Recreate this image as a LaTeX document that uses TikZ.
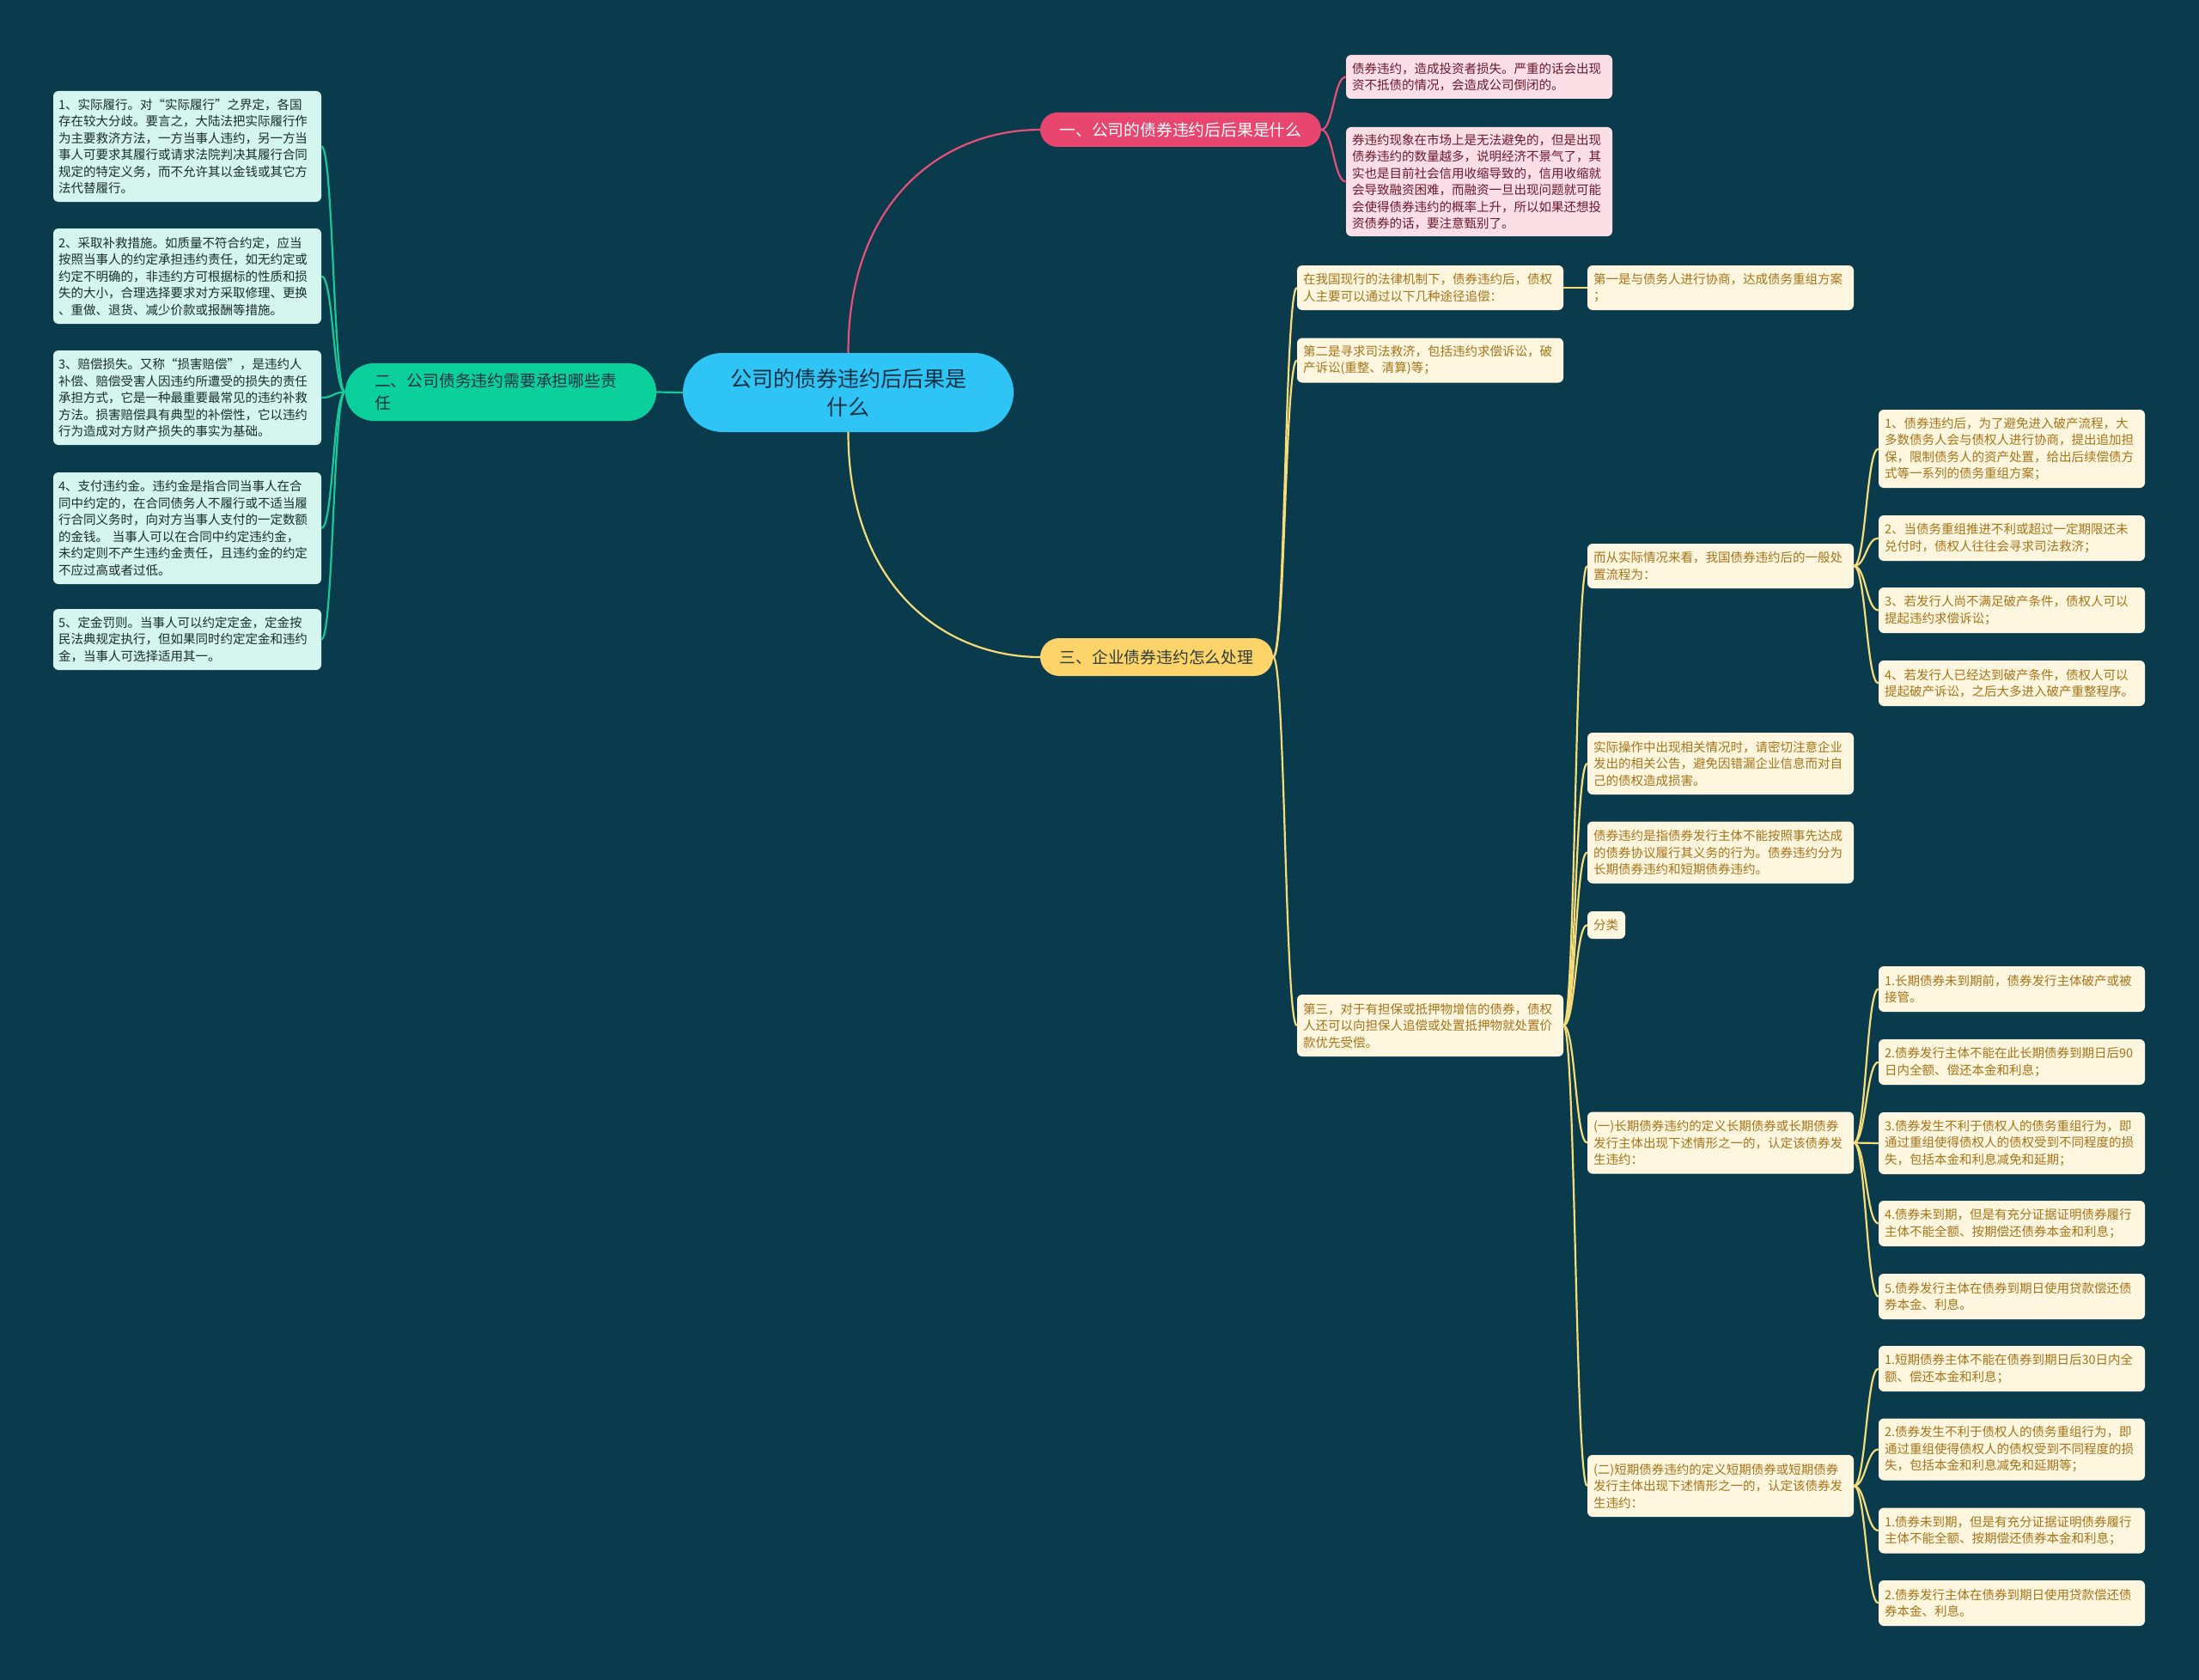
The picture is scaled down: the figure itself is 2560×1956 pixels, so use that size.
\documentclass[tikz,border=0pt]{standalone}
\usepackage{fontspec}
\newfontfamily\cjk{Noto Sans CJK SC}
\definecolor{bgcol}{RGB}{9,59,76}
\definecolor{rootfill}{RGB}{46,196,245}
\definecolor{rootink}{RGB}{20,48,66}
\definecolor{pinkfill}{RGB}{232,70,110}
\definecolor{greenfill}{RGB}{12,208,155}
\definecolor{yelfill}{RGB}{253,212,105}
\definecolor{mintbox}{RGB}{212,246,238}
\definecolor{mintink}{RGB}{25,45,45}
\definecolor{pinkbox}{RGB}{252,222,230}
\definecolor{pinkink}{RGB}{105,25,45}
\definecolor{yelbox}{RGB}{254,246,222}
\definecolor{yelink}{RGB}{165,115,25}
\definecolor{pinkline}{RGB}{230,80,120}
\definecolor{greenline}{RGB}{25,200,150}
\definecolor{yelline}{RGB}{248,220,120}

\begin{document}
\begin{tikzpicture}[x=1pt, y=-1pt,
  txt/.style={font=\cjk\fontsize{14.5}{19.5}\selectfont},
  box/.style={txt, rounded corners=6pt, inner xsep=7pt, inner ysep=0pt,
    text width=296pt, align=left},
  lbox/.style={box, fill=mintbox, text=mintink, text width=300pt, inner xsep=6pt},
  pbox/.style={box, fill=pinkbox, text=pinkink},
  ybox/.style={box, fill=yelbox, text=yelink},
  branch/.style={font=\cjk\fontsize{18.8}{26}\selectfont, inner sep=0pt},
  pline/.style={draw=pinkline, line width=2.2pt},
  gline/.style={draw=greenline, line width=2.2pt},
  yline/.style={draw=yelline, line width=2.2pt},
]

  % ---- canvas ----
  \fill[bgcol] (0,0) rectangle (2560,1956);
  \useasboundingbox (0,0) rectangle (2560,1956);

  % ---- root and main branches ----
  \node[fill=rootfill, text=rootink, rounded corners=46pt, minimum width=385,
    minimum height=92, inner sep=0pt, align=center,
    font=\cjk\fontsize{25}{33}\selectfont] (root) at (987.5,457)
    {公司的债券违约后后果是\\什么};
  \node[branch, fill=pinkfill, text=white, rounded corners=20pt,
    minimum width=327, minimum height=40] (b1) at (1374.5,151)
    {一、公司的债券违约后后果是什么};
  \node[branch, fill=greenfill, text=rootink, rounded corners=33pt,
    minimum height=67, inner xsep=34pt, text width=294pt, align=left] (b2) at (583,456.5)
    {二、公司债务违约需要承担哪些责\\任};
  \node[branch, fill=yelfill, text=rootink!80!yelink, rounded corners=22pt,
    minimum width=271, minimum height=44] (b3) at (1346.5,765)
    {三、企业债券违约怎么处理};

  \draw[pline] (root.north) .. controls +(0,-180) and +(-111,0) .. (b1.west);
  \draw[yline] (root.south) .. controls +(0,180) and +(-111,0) .. (b3.west);
  \draw[gline] (root.west) -- (b2.east);

  % ---- branch 1: consequences ----
  \node[pbox, minimum height=51] (loss) at (1722,89.5)
    {债券违约，造成投资者损失。严重的话会出现\\资不抵债的情况，会造成公司倒闭的。};
  \node[pbox, minimum height=127] (market) at (1722,211.5)
    {券违约现象在市场上是无法避免的，但是出现\\债券违约的数量越多，说明经济不景气了，其\\实也是目前社会信用收缩导致的，信用收缩就\\会导致融资困难，而融资一旦出现问题就可能\\会使得债券违约的概率上升，所以如果还想投\\资债券的话，要注意甄别了。};
  \foreach \c in {loss, market}
    \draw[pline] (b1.east) .. controls +(14,0) and +(-14,0) .. (\c.west);

  % ---- branch 2: liabilities ----
  \node[lbox, minimum height=129] (perform) at (218,170.5)
    {1、实际履行。对“实际履行”之界定，各国\\存在较大分歧。要言之，大陆法把实际履行作\\为主要救济方法，一方当事人违约，另一方当\\事人可要求其履行或请求法院判决其履行合同\\规定的特定义务，而不允许其以金钱或其它方\\法代替履行。};
  \node[lbox, minimum height=111] (remedy) at (218,321.5)
    {2、采取补救措施。如质量不符合约定，应当\\按照当事人的约定承担违约责任，如无约定或\\约定不明确的，非违约方可根据标的性质和损\\失的大小，合理选择要求对方采取修理、更换\\、重做、退货、减少价款或报酬等措施。};
  \node[lbox, minimum height=110] (damages) at (218,463)
    {3、赔偿损失。又称“损害赔偿”，是违约人\\补偿、赔偿受害人因违约所遭受的损失的责任\\承担方式，它是一种最重要最常见的违约补救\\方法。损害赔偿具有典型的补偿性，它以违约\\行为造成对方财产损失的事实为基础。};
  \node[lbox, minimum height=130] (penalty) at (218,615)
    {4、支付违约金。违约金是指合同当事人在合\\同中约定的，在合同债务人不履行或不适当履\\行合同义务时，向对方当事人支付的一定数额\\的金钱。 当事人可以在合同中约定违约金，\\未约定则不产生违约金责任，且违约金的约定\\不应过高或者过低。};
  \node[lbox, minimum height=71] (deposit) at (218,744.5)
    {5、定金罚则。当事人可以约定定金，定金按\\民法典规定执行，但如果同时约定定金和违约\\金，当事人可选择适用其一。};
  \foreach \c in {perform, remedy, damages, penalty, deposit}
    \draw[gline] (b2.west) .. controls +(-14,0) and +(14,0) .. (\c.east);

  % ---- branch 3: handling, level 2 ----
  \node[ybox, minimum height=52] (legal) at (1665,335)
    {在我国现行的法律机制下，债券违约后，债权\\人主要可以通过以下几种途径追偿：};
  \node[ybox, minimum height=52] (judicial) at (1665,419.5)
    {第二是寻求司法救济，包括违约求偿诉讼，破\\产诉讼(重整、清算)等；};
  \node[ybox, minimum height=72] (third) at (1665,1194)
    {第三，对于有担保或抵押物增信的债券，债权\\人还可以向担保人追偿或处置抵押物就处置价\\款优先受偿。};
  \foreach \c in {legal, judicial, third}
    \draw[yline] (b3.east) .. controls +(14,0) and +(-14,0) .. (\c.west);

  \node[ybox, minimum height=52] (negot) at (2003,335)
    {第一是与债务人进行协商，达成债务重组方案\\；};
  \draw[yline] (legal.east) -- (negot.west);

  % ---- level 3 under "第三" ----
  \node[ybox, minimum height=52] (flow) at (2003,659)
    {而从实际情况来看，我国债券违约后的一般处\\置流程为：};
  \node[ybox, minimum height=72] (notice) at (2003,889)
    {实际操作中出现相关情况时，请密切注意企业\\发出的相关公告，避免因错漏企业信息而对自\\己的债权造成损害。};
  \node[ybox, minimum height=72] (define) at (2003,992.5)
    {债券违约是指债券发行主体不能按照事先达成\\的债券协议履行其义务的行为。债券违约分为\\长期债券违约和短期债券违约。};
  \node[ybox, text width=30pt, minimum height=32] (kind) at (1870,1077) {分类};
  \node[ybox, minimum height=72] (long) at (2003,1330.5)
    {(一)长期债券违约的定义长期债券或长期债券\\发行主体出现下述情形之一的，认定该债券发\\生违约：};
  \node[ybox, minimum height=72] (short) at (2003,1730)
    {(二)短期债券违约的定义短期债券或短期债券\\发行主体出现下述情形之一的，认定该债券发\\生违约：};
  \foreach \c in {flow, notice, define, kind, long, short}
    \draw[yline] (third.east) .. controls +(14,0) and +(-14,0) .. (\c.west);

  % ---- level 4: general procedure ----
  \node[ybox, minimum height=91] (f1) at (2342,522.5)
    {1、债券违约后，为了避免进入破产流程，大\\多数债务人会与债权人进行协商，提出追加担\\保，限制债务人的资产处置，给出后续偿债方\\式等一系列的债务重组方案；};
  \node[ybox, minimum height=53] (f2) at (2342,626.5)
    {2、当债务重组推进不利或超过一定期限还未\\兑付时，债权人往往会寻求司法救济；};
  \node[ybox, minimum height=53] (f3) at (2342,710.5)
    {3、若发行人尚不满足破产条件，债权人可以\\提起违约求偿诉讼；};
  \node[ybox, minimum height=53] (f4) at (2342,795.5)
    {4、若发行人已经达到破产条件，债权人可以\\提起破产诉讼，之后大多进入破产重整程序。};
  \foreach \c in {f1, f2, f3, f4}
    \draw[yline] (flow.east) .. controls +(14,0) and +(-14,0) .. (\c.west);

  % ---- level 4: long-term default ----
  \node[ybox, minimum height=53] (l1) at (2342,1151.5)
    {1.长期债券未到期前，债券发行主体破产或被\\接管。};
  \node[ybox, minimum height=53] (l2) at (2342,1236.5)
    {2.债券发行主体不能在此长期债券到期日后90\\日内全额、偿还本金和利息；};
  \node[ybox, minimum height=72] (l3) at (2342,1331)
    {3.债券发生不利于债权人的债务重组行为，即\\通过重组使得债权人的债权受到不同程度的损\\失，包括本金和利息减免和延期；};
  \node[ybox, minimum height=53] (l4) at (2342,1424.5)
    {4.债券未到期，但是有充分证据证明债券履行\\主体不能全额、按期偿还债券本金和利息；};
  \node[ybox, minimum height=53] (l5) at (2342,1509.5)
    {5.债券发行主体在债券到期日使用贷款偿还债\\券本金、利息。};
  \foreach \c in {l1, l2, l3, l4, l5}
    \draw[yline] (long.east) .. controls +(14,0) and +(-14,0) .. (\c.west);

  % ---- level 4: short-term default ----
  \node[ybox, minimum height=53] (s1) at (2342,1593.5)
    {1.短期债券主体不能在债券到期日后30日内全\\额、偿还本金和利息；};
  \node[ybox, minimum height=72] (s2) at (2342,1687.5)
    {2.债券发生不利于债权人的债务重组行为，即\\通过重组使得债权人的债权受到不同程度的损\\失，包括本金和利息减免和延期等；};
  \node[ybox, minimum height=53] (s3) at (2342,1782)
    {1.债券未到期，但是有充分证据证明债券履行\\主体不能全额、按期偿还债券本金和利息；};
  \node[ybox, minimum height=53] (s4) at (2342,1866.5)
    {2.债券发行主体在债券到期日使用贷款偿还债\\券本金、利息。};
  \foreach \c in {s1, s2, s3, s4}
    \draw[yline] (short.east) .. controls +(14,0) and +(-14,0) .. (\c.west);

\end{tikzpicture}
\end{document}
